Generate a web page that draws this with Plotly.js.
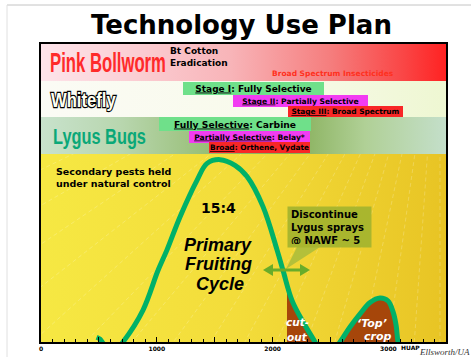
<!DOCTYPE html>
<html>
<head>
<meta charset="utf-8">
<script src="https://cdn.plot.ly/plotly-3.0.1.min.js"></script>
<style>
  html, body { margin: 0; padding: 0; background: #fff; }
  #chart { width: 471px; height: 357px; }
  text[data-unformatted="Whitefly"] { stroke: #000; stroke-width: 2.4px; paint-order: stroke; }
</style>
</head>
<body>
<div id="chart"></div>
<script>
// fruiting curve: heat units after planting vs relative fruiting rate
const heatUnits = [480, 510, 540, 620, 708, 881, 1010, 1088, 1200, 1347, 1434, 1546, 1675, 1779, 1917, 2038, 2090, 2168, 2263, 2366, 2450, 2582, 2668, 2755, 2841, 2927, 2997, 3040, 3066, 3083, 3130];
const fruitRate = [2.5, 1.5, -1, -6, 0, 17, 38, 49, 66.5, 86, 95, 97, 94, 88, 72, 49, 38, 22, 10.6, 0, -10, 0, 8, 15, 21, 23.4, 21.8, 16, 9, 0, -12];

// brown areas
const cutoutHU = [2124, 2168, 2263, 2366];
const cutoutRate = [29, 22, 10.6, 0];
const topCropHU = [2582, 2668, 2755, 2841, 2927, 2997, 3040, 3066, 3083];
const topCropRate = [0, 8, 15, 21, 23.4, 21.8, 16, 9, 0];

const tickVals = [0, 500, 1000, 1500, 2000, 2500, 3000];
const tickText = ['0', '', '1000', '', '2000', '', '3000'];

// plot box in page pixels, used to place the slide texts
const PL = 41, PR = 446, PT = 44, PB = 342;
const px = x => (x - PL) / (PR - PL);
const py = y => (PB - y) / (PB - PT);

function gradient(stops, w, h, rays) {
    const c = document.createElement('canvas');
    c.width = w; c.height = h;
    const g = c.getContext('2d');
    const lg = g.createLinearGradient(0, 0, w, 0);
    stops.forEach(s => lg.addColorStop(s[0], s[1]));
    g.fillStyle = lg;
    g.fillRect(0, 0, w, h);
    if (rays) {
        // faint sunburst lines in the background
        g.strokeStyle = 'rgba(255,255,255,0.3)';
        g.lineWidth = 0.7;
        g.setLineDash([4, 3]);
        const fx = 399, fy = -179;
        for (let a = 86; a <= 160; a += 4) {
            const r = a * Math.PI / 180;
            g.beginPath();
            g.moveTo(fx, fy);
            g.lineTo(fx + Math.cos(r) * 1200, fy + Math.sin(r) * 1200);
            g.stroke();
        }
    }
    return c.toDataURL();
}

function band(src, top, bottom) {
    return {
        source: src, xref: 'paper', yref: 'paper',
        x: 0, y: py(top), sizex: 1, sizey: py(top) - py(bottom),
        xanchor: 'left', yanchor: 'top', sizing: 'stretch', layer: 'below'
    };
}

const images = [
    band(gradient([[0, '#fde4ea'], [0.15, '#fcd6dc'], [0.47, '#f8b4b8'], [0.72, '#f57c7c'], [0.9, '#fa4444'], [1, '#ff2222']], 405, 37), 44, 81),
    band(gradient([[0, '#fbfbf5'], [0.6, '#f8faea'], [1, '#eef7d2']], 405, 36), 81, 117),
    band(gradient([[0, '#c8e2cc'], [0.2, '#b8d6ae'], [0.45, '#92ba6c'], [0.62, '#86ae58'], [0.8, '#b0d096'], [1, '#c4dfca']], 405, 37), 117, 154),
    band(gradient([[0, '#f6e843'], [0.5, '#f3dc3a'], [1, '#e8c424']], 405, 188, true), 154, 342)
];

const V = 'DejaVu Sans', A = 'Liberation Sans';

function label(text, x, y, o) {
    o = o || {};
    return {
        text: text, x: px(x), y: py(y), xref: 'paper', yref: 'paper',
        showarrow: false, xanchor: o.xa || 'center', yanchor: 'middle',
        align: o.align || 'center',
        font: { family: o.family || V, size: o.size || 10, color: o.color || '#000',
                weight: o.weight || 'bold', style: o.style || 'normal' }
    };
}

function box(text, x0, x1, y0, y1, bg, size, o) {
    const a = label(text, (x0 + x1) / 2, (y0 + y1) / 2, Object.assign({ size: size }, o || {}));
    a.bgcolor = bg;
    a.width = x1 - x0;
    a.height = y1 - y0;
    a.borderpad = 0;
    a.borderwidth = 0;
    a.valign = 'middle';
    return a;
}

const U = s => '<span style="text-decoration:underline">' + s + '</span>';
const GREEN = '#6fe08a', MAG = '#f23cf2', RED = '#f82626';

const disc = label('Discontinue<br>Lygus sprays<br>@ NAWF ~ 5', 329.5, 227, { size: 10, align: 'left' });
disc.bgcolor = '#a9b62e'; disc.width = 77; disc.height = 34; disc.borderpad = 3;

const annotations = [
    label('Technology Use Plan', 241, 25, { size: 26 }),
    label('Pink Bollworm', 48, 63, { family: A, size: 27, color: '#ff2a2a', xa: 'left' }),
    label('Bt Cotton<br>Eradication', 168, 57, { size: 9, xa: 'left', align: 'left' }),
    label('Broad Spectrum Insecticides', 333, 73, { size: 7.5, color: '#ff3020' }),
    label('Whitefly', 49, 100, { family: A, size: 21, color: '#fffff2', xa: 'left' }),
    label('Lygus Bugs', 51, 136, { family: A, size: 22, color: '#0aa878', xa: 'left' }),
    box(U('Stage I') + ': Fully Selective', 183, 324, 82, 95, GREEN, 9),
    box(U('Stage II') + ': Partially Selective', 233, 368, 95, 107, MAG, 7.6),
    box(U('Stage III') + ': Broad Spectrum', 288, 403, 106, 117, RED, 7.4),
    box(U('Fully Selective') + ': Carbine', 159, 311, 117, 131, GREEN, 9.2),
    box(U('Partially Selective') + ': Belay*', 189, 310, 131, 143, MAG, 7.6),
    box(U('Broad') + ': Orthene, Vydate', 209, 310, 142, 153, RED, 7.4),
    label('Secondary pests held<br>under natural control', 54, 177, { size: 9.5, xa: 'left', align: 'left' }),
    label('15:4', 218, 208, { size: 14 }),
    label('Primary', 218, 245, { family: A, size: 18, style: 'italic' }),
    label('Fruiting', 218, 264, { family: A, size: 18, style: 'italic' }),
    label('Cycle', 220, 284, { family: A, size: 18, style: 'italic' }),
    disc,
    label('cut-', 297, 322, { size: 10.5, color: '#fff', style: 'italic' }),
    label('out', 297, 337, { size: 10.5, color: '#fff', style: 'italic' }),
    label('\u2018Top\u2019', 372, 323, { size: 11, color: '#fff', style: 'italic' }),
    label('crop', 378, 336, { size: 11, color: '#fff', style: 'italic' }),
    label('HUAP', 399, 347, { size: 6, xa: 'left' }),
    label('Ellsworth/UA', 417, 352, { family: 'Liberation Serif', size: 9, color: '#333', weight: 'normal', style: 'italic', xa: 'left' })
];

// target widths (px) for the condensed row headings
const squeeze = { 'Pink Bollworm': 116, 'Whitefly': 65, 'Lygus Bugs': 93 };

const P = (x, y) => px(x) + ',' + py(y);
const shapes = [
    // slide edge
    { type: 'line', xref: 'paper', yref: 'paper', x0: px(7), x1: px(471), y0: py(5), y1: py(5), line: { color: '#c4c4c4', width: 1 } },
    { type: 'line', xref: 'paper', yref: 'paper', x0: px(7), x1: px(7), y0: py(5), y1: py(357), line: { color: '#e0e0e0', width: 1 } },
    // callout pointer
    { type: 'path', xref: 'paper', yref: 'paper', path: 'M' + P(297, 247) + 'L' + P(320, 247) + 'L' + P(286, 269) + 'Z',
      fillcolor: '#b3c03a', line: { width: 0 } },
    // double arrow
    { type: 'line', xref: 'paper', yref: 'paper', x0: px(270), x1: px(303), y0: py(270), y1: py(270), line: { color: '#68ac2a', width: 3 } },
    { type: 'path', xref: 'paper', yref: 'paper', path: 'M' + P(263, 270) + 'L' + P(273, 264) + 'L' + P(273, 276) + 'Z',
      fillcolor: '#68ac2a', line: { width: 0 } },
    { type: 'path', xref: 'paper', yref: 'paper', path: 'M' + P(310, 270) + 'L' + P(300, 264) + 'L' + P(300, 276) + 'Z',
      fillcolor: '#68ac2a', line: { width: 0 } }
];

const brown = '#a6460a';
const traces = [
    { x: cutoutHU, y: cutoutRate, type: 'scatter', mode: 'lines', fill: 'tozeroy', fillcolor: brown,
      line: { width: 0, shape: 'spline' }, hoverinfo: 'skip' },
    { x: topCropHU, y: topCropRate, type: 'scatter', mode: 'lines', fill: 'tozeroy', fillcolor: brown,
      line: { width: 0, shape: 'spline' }, hoverinfo: 'skip' },
    { x: heatUnits, y: fruitRate, type: 'scatter', mode: 'lines',
      line: { color: '#00b168', width: 5, shape: 'spline', smoothing: 1 }, hoverinfo: 'skip' }
];

const layout = {
    width: 471, height: 357,
    margin: { l: PL, r: 471 - PR, t: PT, b: 357 - PB, pad: 0 },
    paper_bgcolor: '#fff',
    plot_bgcolor: '#f2dc38',
    showlegend: false,
    xaxis: {
        range: [0, 3497], showline: true, linecolor: '#000', linewidth: 2, mirror: true,
        showgrid: false, zeroline: false,
        tickmode: 'array', tickvals: tickVals, ticktext: tickText,
        ticks: 'inside', ticklen: 5, tickwidth: 1, tickcolor: '#000',
        tickfont: { family: V, size: 6, weight: 'bold', color: '#000' },
        minor: { dtick: 100, tick0: 0, ticks: 'inside', ticklen: 3, tickwidth: 1, tickcolor: '#000', showgrid: false }
    },
    yaxis: {
        range: [0, 158.5], showline: true, linecolor: '#000', linewidth: 2, mirror: true,
        showgrid: false, zeroline: false, showticklabels: false, ticks: ''
    },
    images: images,
    shapes: shapes,
    annotations: annotations
};

Plotly.newPlot('chart', traces, layout, { staticPlot: true }).then(() => {
    // narrow the big row headings horizontally, keeping their left edge
    document.querySelectorAll('#chart text').forEach(t => {
        const w = squeeze[t.textContent];
        if (!w) return;
        const b = t.getBBox();
        const sx = w / b.width;
        const prev = t.getAttribute('transform') || '';
        t.setAttribute('transform', prev + ' translate(' + b.x + ',0) scale(' + sx + ',1) translate(' + (-b.x) + ',0)');
    });
});
</script>
</body>
</html>
